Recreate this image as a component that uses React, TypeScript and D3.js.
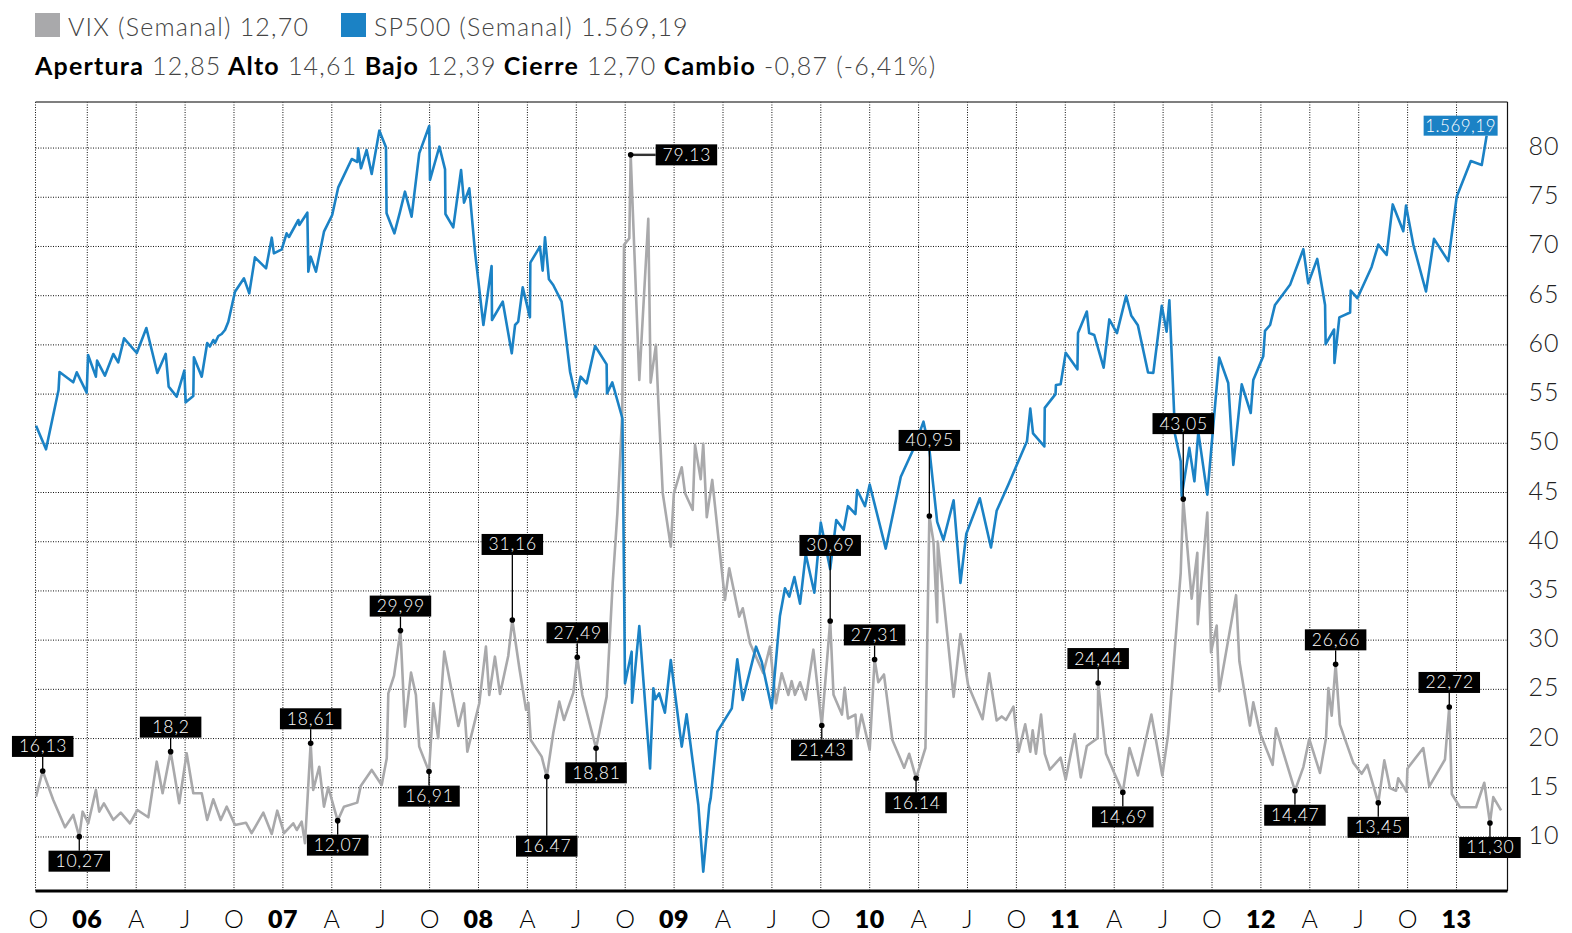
import React from 'react';
import * as d3 from 'd3';

const vixWeekly: [number, number][] = [
  [2005.738, 14.1], [2005.772, 16.71], [2005.826, 13.76], [2005.886, 10.99], [2005.928, 12.24], [2005.959, 10.03],
  [2005.976, 12.57], [2006.005, 11.39], [2006.044, 14.78], [2006.061, 12.57], [2006.085, 13.42], [2006.133, 11.73],
  [2006.171, 12.47], [2006.218, 11.39], [2006.256, 12.74], [2006.312, 12.0], [2006.355, 17.65], [2006.385, 14.44],
  [2006.426, 18.67], [2006.47, 13.42], [2006.508, 18.51], [2006.542, 14.44], [2006.585, 14.44], [2006.613, 11.73],
  [2006.644, 13.83], [2006.682, 11.73], [2006.713, 13.08], [2006.755, 11.22], [2006.811, 11.45], [2006.84, 10.38],
  [2006.9, 12.47], [2006.943, 10.3], [2006.971, 12.67], [2007.006, 10.38], [2007.053, 11.39], [2007.071, 10.71],
  [2007.096, 11.55], [2007.113, 9.36], [2007.142, 19.52], [2007.155, 14.78], [2007.186, 17.14], [2007.21, 13.08],
  [2007.232, 15.05], [2007.28, 11.66], [2007.312, 13.08], [2007.38, 13.49], [2007.398, 15.18], [2007.454, 16.81],
  [2007.505, 15.28], [2007.531, 18.0], [2007.539, 24.6], [2007.568, 26.36], [2007.601, 30.97], [2007.624, 21.21],
  [2007.655, 26.7], [2007.68, 24.43], [2007.697, 19.18], [2007.747, 16.64], [2007.769, 23.59], [2007.794, 20.03],
  [2007.825, 28.83], [2007.897, 21.28], [2007.926, 23.59], [2007.943, 18.67], [2008.004, 23.59], [2008.038, 29.34],
  [2008.055, 24.43], [2008.084, 28.32], [2008.11, 24.53], [2008.152, 28.39], [2008.173, 32.05], [2008.209, 27.14],
  [2008.243, 22.91], [2008.255, 23.65], [2008.267, 19.86], [2008.323, 18.16], [2008.349, 16.13], [2008.382, 20.54],
  [2008.413, 23.75], [2008.437, 21.89], [2008.485, 24.66], [2008.505, 28.26], [2008.531, 24.43], [2008.601, 19.01],
  [2008.655, 24.26], [2008.686, 35.78], [2008.71, 42.9], [2008.735, 53.06], [2008.744, 70.16], [2008.771, 70.84],
  [2008.778, 79.31], [2008.822, 56.44], [2008.868, 72.8], [2008.88, 56.17], [2008.907, 60.0], [2008.919, 54.41],
  [2008.942, 44.93], [2008.983, 39.5], [2008.999, 44.93], [2009.039, 47.57], [2009.056, 44.93], [2009.095, 43.23],
  [2009.107, 49.84], [2009.136, 46.35], [2009.149, 49.94], [2009.167, 42.49], [2009.195, 46.28], [2009.26, 34.09],
  [2009.282, 37.31], [2009.333, 32.39], [2009.351, 33.24], [2009.388, 29.68], [2009.456, 26.64], [2009.49, 29.34],
  [2009.521, 23.59], [2009.55, 26.64], [2009.584, 24.43], [2009.601, 25.83], [2009.618, 24.44], [2009.644, 25.72],
  [2009.673, 23.96], [2009.712, 29.03], [2009.755, 21.32], [2009.798, 31.95], [2009.815, 24.44], [2009.858, 22.44],
  [2009.872, 25.16], [2009.889, 22.04], [2009.927, 22.44], [2009.936, 20.04], [2009.958, 22.44], [2010.0, 18.84],
  [2010.025, 28.04], [2010.044, 25.72], [2010.073, 26.51], [2010.116, 19.85], [2010.176, 17.04], [2010.202, 18.45],
  [2010.237, 15.97], [2010.285, 19.04], [2010.305, 42.62], [2010.326, 40.02], [2010.345, 31.83], [2010.348, 40.02],
  [2010.429, 24.24], [2010.464, 30.63], [2010.503, 25.44], [2010.577, 21.96], [2010.611, 26.64], [2010.649, 21.84],
  [2010.675, 22.25], [2010.697, 21.89], [2010.735, 23.24], [2010.761, 18.65], [2010.795, 21.44], [2010.821, 18.65],
  [2010.833, 20.84], [2010.85, 18.45], [2010.876, 22.44], [2010.895, 18.45], [2010.921, 16.85], [2010.976, 18.05],
  [2011.002, 15.84], [2011.048, 20.45], [2011.079, 16.05], [2011.11, 19.25], [2011.165, 20.04], [2011.168, 25.64],
  [2011.208, 18.45], [2011.247, 16.65], [2011.294, 14.53], [2011.328, 19.04], [2011.371, 16.25], [2011.44, 22.44],
  [2011.496, 16.25], [2011.526, 20.45], [2011.59, 36.84], [2011.603, 44.33], [2011.646, 34.21], [2011.675, 38.88],
  [2011.677, 31.63], [2011.726, 42.97], [2011.745, 28.76], [2011.774, 31.48], [2011.787, 24.82], [2011.873, 34.57],
  [2011.89, 27.86], [2011.944, 21.32], [2011.961, 23.68], [2011.995, 20.6], [2012.06, 17.33], [2012.077, 21.05],
  [2012.174, 14.7], [2012.217, 17.1], [2012.247, 19.96], [2012.302, 16.51], [2012.333, 20.05], [2012.345, 25.13],
  [2012.362, 22.32], [2012.382, 27.54], [2012.404, 21.41], [2012.472, 17.55], [2012.515, 16.42], [2012.544, 17.33],
  [2012.6, 13.47], [2012.631, 17.78], [2012.66, 14.97], [2012.691, 14.7], [2012.702, 15.97], [2012.745, 14.6],
  [2012.749, 16.96], [2012.83, 19.04], [2012.861, 15.14], [2012.941, 17.87], [2012.963, 23.21], [2012.976, 14.37],
  [2013.018, 13.02], [2013.1, 13.02], [2013.142, 15.51], [2013.171, 11.42], [2013.188, 14.05], [2013.228, 12.7],
];

// S&P 500 weekly closes (index points), plotted on its own hidden scale
const spWeekly: [number, number][] = [
  [2005.738, 1221.2], [2005.789, 1192.8], [2005.853, 1264.0], [2005.858, 1285.6], [2005.928, 1273.2], [2005.946, 1285.2],
  [2005.997, 1260.8], [2006.004, 1306.0], [2006.044, 1280.0], [2006.05, 1299.2], [2006.09, 1281.2], [2006.133, 1307.2],
  [2006.158, 1297.2], [2006.188, 1326.0], [2006.253, 1308.4], [2006.302, 1338.4], [2006.358, 1284.4], [2006.401, 1307.4],
  [2006.416, 1268.0], [2006.457, 1256.0], [2006.496, 1287.2], [2006.503, 1249.2], [2006.542, 1256.8], [2006.545, 1303.2],
  [2006.585, 1280.0], [2006.613, 1320.4], [2006.627, 1316.2], [2006.644, 1324.0], [2006.653, 1320.4], [2006.67, 1328.8],
  [2006.687, 1331.2], [2006.704, 1336.0], [2006.721, 1346.0], [2006.755, 1382.0], [2006.801, 1398.0], [2006.828, 1380.0],
  [2006.857, 1423.2], [2006.914, 1410.0], [2006.943, 1446.8], [2006.954, 1428.0], [2006.994, 1432.8], [2007.019, 1452.0],
  [2007.031, 1447.6], [2007.079, 1468.0], [2007.084, 1462.0], [2007.125, 1476.8], [2007.13, 1406.0], [2007.142, 1424.0],
  [2007.169, 1406.0], [2007.21, 1454.0], [2007.252, 1474.0], [2007.283, 1507.2], [2007.352, 1541.2], [2007.381, 1537.6],
  [2007.385, 1554.0], [2007.399, 1530.0], [2007.428, 1552.0], [2007.454, 1523.2], [2007.493, 1575.2], [2007.527, 1555.2],
  [2007.53, 1476.0], [2007.57, 1452.0], [2007.599, 1478.0], [2007.624, 1502.0], [2007.658, 1472.0], [2007.697, 1548.0],
  [2007.748, 1580.8], [2007.752, 1516.0], [2007.8, 1556.0], [2007.829, 1528.8], [2007.831, 1475.2], [2007.871, 1459.2],
  [2007.911, 1528.0], [2007.926, 1488.8], [2007.953, 1506.0], [2007.982, 1430.0], [2008.025, 1342.0], [2008.067, 1412.8],
  [2008.069, 1348.0], [2008.124, 1370.0], [2008.17, 1308.0], [2008.187, 1342.0], [2008.203, 1346.0], [2008.226, 1387.2],
  [2008.263, 1351.2], [2008.265, 1416.8], [2008.314, 1436.0], [2008.328, 1407.2], [2008.34, 1447.2], [2008.36, 1396.8],
  [2008.382, 1390.0], [2008.425, 1370.0], [2008.468, 1286.0], [2008.498, 1255.2], [2008.522, 1280.0], [2008.553, 1272.0],
  [2008.596, 1316.8], [2008.655, 1294.8], [2008.657, 1260.0], [2008.684, 1273.2], [2008.736, 1229.8], [2008.749, 912.0],
  [2008.783, 950.0], [2008.785, 888.8], [2008.822, 980.8], [2008.877, 810.0], [2008.894, 906.0], [2008.904, 892.8],
  [2008.924, 900.0], [2008.953, 876.8], [2008.983, 940.0], [2009.039, 836.0], [2009.064, 874.8], [2009.124, 766.0],
  [2009.149, 686.0], [2009.18, 766.0], [2009.187, 774.0], [2009.221, 854.0], [2009.295, 882.0], [2009.323, 940.8],
  [2009.351, 892.0], [2009.419, 956.0], [2009.448, 938.0], [2009.499, 882.0], [2009.541, 992.8], [2009.567, 1026.0],
  [2009.589, 1016.0], [2009.615, 1039.6], [2009.644, 1007.6], [2009.673, 1067.0], [2009.717, 1020.8], [2009.75, 1104.8],
  [2009.798, 1049.0], [2009.829, 1108.0], [2009.867, 1096.2], [2009.889, 1124.6], [2009.927, 1115.2], [2009.936, 1144.0],
  [2009.976, 1124.6], [2010.0, 1150.6], [2010.082, 1073.7], [2010.159, 1160.0], [2010.228, 1195.4], [2010.275, 1226.0],
  [2010.305, 1193.0], [2010.345, 1105.7], [2010.377, 1084.0], [2010.429, 1131.6], [2010.464, 1032.6], [2010.494, 1091.6],
  [2010.563, 1134.0], [2010.62, 1075.0], [2010.649, 1119.0], [2010.709, 1150.6], [2010.804, 1202.4], [2010.821, 1241.7],
  [2010.835, 1212.0], [2010.893, 1196.3], [2010.895, 1242.5], [2010.95, 1259.0], [2010.952, 1270.0], [2010.976, 1270.8],
  [2011.002, 1308.6], [2011.062, 1288.8], [2011.065, 1332.3], [2011.11, 1358.2], [2011.122, 1332.3], [2011.148, 1330.0],
  [2011.196, 1290.8], [2011.225, 1348.7], [2011.264, 1332.3], [2011.311, 1377.0], [2011.337, 1353.5], [2011.371, 1341.6],
  [2011.423, 1285.0], [2011.45, 1284.6], [2011.493, 1365.0], [2011.518, 1334.0], [2011.532, 1371.5], [2011.561, 1210.7],
  [2011.59, 1178.6], [2011.595, 1136.8], [2011.634, 1194.6], [2011.66, 1154.4], [2011.68, 1213.4], [2011.726, 1138.4],
  [2011.787, 1302.9], [2011.833, 1272.4], [2011.859, 1174.2], [2011.902, 1270.7], [2011.948, 1236.4], [2011.961, 1276.0],
  [2012.012, 1304.4], [2012.021, 1335.0], [2012.047, 1342.0], [2012.072, 1366.1], [2012.149, 1390.2], [2012.217, 1433.0],
  [2012.242, 1392.0], [2012.288, 1421.3], [2012.328, 1366.1], [2012.331, 1319.0], [2012.374, 1336.6], [2012.376, 1296.4],
  [2012.401, 1351.1], [2012.456, 1357.0], [2012.459, 1383.3], [2012.493, 1374.2], [2012.566, 1411.7], [2012.6, 1438.5],
  [2012.643, 1426.1], [2012.674, 1486.7], [2012.728, 1454.6], [2012.742, 1485.2], [2012.779, 1438.5], [2012.844, 1382.2],
  [2012.885, 1445.4], [2012.958, 1418.7], [2013.001, 1495.8], [2013.073, 1538.8], [2013.129, 1534.0], [2013.154, 1569.19],
];

// one label per quarter, starting October 2005
const quarterLabels = ['O', '06', 'A', 'J', 'O', '07', 'A', 'J', 'O', '08', 'A', 'J', 'O', '09', 'A', 'J',
  'O', '10', 'A', 'J', 'O', '11', 'A', 'J', 'O', '12', 'A', 'J', 'O', '13'];
const firstQuarter = 2005.75;

const yTicks = [10, 15, 20, 25, 30, 35, 40, 45, 50, 55, 60, 65, 70, 75, 80];

// VIX highs / lows marked on the line
const vixNotes = [
  { t: 2005.772, label: '16,13', side: 'up' },
  { t: 2005.959, label: '10,27', side: 'down' },
  { t: 2006.426, label: '18,2', side: 'up' },
  { t: 2007.142, label: '18,61', side: 'up' },
  { t: 2007.28, label: '12,07', side: 'down' },
  { t: 2007.601, label: '29,99', side: 'up' },
  { t: 2007.747, label: '16,91', side: 'down' },
  { t: 2008.173, label: '31,16', side: 'up', long: true },
  { t: 2008.349, label: '16.47', side: 'down', long: true },
  { t: 2008.505, label: '27,49', side: 'up' },
  { t: 2008.601, label: '18,81', side: 'down' },
  { t: 2008.778, label: '79.13', side: 'right' },
  { t: 2009.755, label: '21,43', side: 'down' },
  { t: 2009.798, label: '30,69', side: 'up', long: true },
  { t: 2010.025, label: '27,31', side: 'up' },
  { t: 2010.237, label: '16.14', side: 'down' },
  { t: 2010.305, label: '40,95', side: 'up', long: true },
  { t: 2011.168, label: '24,44', side: 'up' },
  { t: 2011.294, label: '14,69', side: 'down' },
  { t: 2011.603, label: '43,05', side: 'up', long: true },
  { t: 2012.174, label: '14,47', side: 'down' },
  { t: 2012.382, label: '26,66', side: 'up' },
  { t: 2012.6, label: '13,45', side: 'down' },
  { t: 2012.963, label: '22,72', side: 'up' },
  { t: 2013.171, label: '11,30', side: 'down' },
];

const legendSeries = [
  { key: 'vix', name: 'VIX (Semanal)', value: '12,70' },
  { key: 'sp', name: 'SP500 (Semanal)', value: '1.569,19' },
];
const sessionStats = [
  ['Apertura', '12,85'], ['Alto', '14,61'], ['Bajo', '12,39'], ['Cierre', '12,70'], ['Cambio', '-0,87 (-6,41%)'],
];
const spLastLabel = '1.569,19';

const COLORS: Record<string, string> = { vix: '#a9a9ab', sp: '#1b82c5' };
const FONT = "Lato, 'Open Sans', sans-serif";
const W = 1572;
const H = 933;
const plot = { left: 35.5, right: 1507.5, top: 102, bottom: 891 };

export default function App() {
  const x = d3.scaleLinear().domain([2005.7352, 2013.2607]).range([plot.left, plot.right]);
  const y = d3.scaleLinear().domain([4.51, 84.68]).range([plot.bottom, plot.top]);
  const ySp = d3.scaleLinear().domain([662.8, 1609.6]).range([plot.bottom, plot.top]);

  const vixLine = d3.line<[number, number]>().x(d => x(d[0])).y(d => y(d[1]));
  const spLine = d3.line<[number, number]>().x(d => x(d[0])).y(d => ySp(d[1]));

  const quarters = quarterLabels.map((label, i) => ({ t: firstQuarter + i * 0.25, label }));
  const spLast = spWeekly[spWeekly.length - 1];

  const boxW = 61.5;
  const boxH = 21;

  return (
    <div style={{ position: 'absolute', left: 0, top: 0 }}>
      <svg width={W} height={H} style={{ display: 'block', background: '#fff' }} fontFamily={FONT}>
        {/* legend */}
        {legendSeries.map((s, i) => {
          const lx = i === 0 ? 35 : 341;
          return (
            <g key={s.key}>
              <rect x={lx} y={13} width={25} height={24} fill={COLORS[s.key]} />
              <text x={lx + 33} y={36} fontSize={25} fontWeight={300} fill="#444" letterSpacing={1.2}>
                {s.name} {s.value}
              </text>
            </g>
          );
        })}
        <text x={35} y={75} fontSize={25} fill="#444" fontWeight={300} letterSpacing={1.2}>
          {sessionStats.map(([k, v], i) => (
            <React.Fragment key={k}>
              <tspan fontWeight={700} fill="#000">{(i > 0 ? ' ' : '') + k}</tspan>
              <tspan>{' ' + v}</tspan>
            </React.Fragment>
          ))}
        </text>

        {/* grid */}
        {yTicks.map(v => (
          <line key={'h' + v} x1={plot.left} x2={plot.right} y1={y(v)} y2={y(v)}
            stroke="#111" strokeWidth={1} strokeDasharray="1 1.5" />
        ))}
        {quarters.filter(q => x(q.t) > plot.left + 6).map(q => (
          <line key={'v' + q.t} x1={x(q.t)} x2={x(q.t)} y1={plot.top} y2={plot.bottom}
            stroke="#111" strokeWidth={1} strokeDasharray="1 1.5" />
        ))}
        <line x1={plot.left} x2={plot.left} y1={plot.top} y2={plot.bottom}
          stroke="#111" strokeWidth={1} strokeDasharray="1 1.5" />
        <line x1={plot.left} x2={plot.right} y1={plot.top} y2={plot.top} stroke="#555" strokeWidth={1.6} />
        <line x1={plot.right} x2={plot.right} y1={plot.top} y2={plot.bottom} stroke="#111" strokeWidth={1.2} />

        {/* series */}
        <path d={vixLine(vixWeekly) || ''} fill="none" stroke={COLORS.vix} strokeWidth={2.6} strokeLinejoin="round" />
        <path d={spLine(spWeekly) || ''} fill="none" stroke={COLORS.sp} strokeWidth={2.6} strokeLinejoin="round" />

        <line x1={plot.left} x2={plot.right} y1={plot.bottom} y2={plot.bottom} stroke="#000" strokeWidth={3} />

        {/* VIX notes */}
        {vixNotes.map(n => {
          const p = d3.least(vixWeekly, d => Math.abs(d[0] - n.t))!;
          const px = x(p[0]);
          const py = y(p[1]);
          const gap = n.long ? (n.side === 'up' ? 65 : 59) : 14;
          let bx = px - boxW / 2;
          let by = n.side === 'up' ? py - gap - boxH : py + gap;
          let leader = <line x1={px} x2={px} y1={py} y2={n.side === 'up' ? by + boxH : by} stroke="#000" strokeWidth={1.3} />;
          if (n.side === 'right') {
            bx = px + 25;
            by = py - boxH / 2;
            leader = <line x1={px} x2={bx} y1={py} y2={py} stroke="#333" strokeWidth={2.4} />;
          }
          return (
            <g key={n.label}>
              {leader}
              <circle cx={px} cy={py} r={2.8} fill="#000" />
              <rect x={bx} y={by} width={boxW} height={boxH} fill="#000" />
              <text x={bx + boxW / 2 + 0.4} y={by + boxH / 2 + 6} textAnchor="middle" fontSize={17.5}
                fontWeight={300} fill="#fff" letterSpacing={0.8}>
                {n.label}
              </text>
            </g>
          );
        })}

        {/* SP500 last value tag */}
        <rect x={x(spLast[0]) - 63} y={ySp(spLast[1]) - 20} width={74} height={20} fill={COLORS.sp} />
        <text x={x(spLast[0]) - 26} y={ySp(spLast[1]) - 4} textAnchor="middle" fontSize={17}
          fontWeight={300} fill="#fff" letterSpacing={0.5}>
          {spLastLabel}
        </text>

        {/* right axis */}
        {yTicks.map(v => (
          <text key={'yl' + v} x={1544} y={y(v) + 7} textAnchor="middle" fontSize={25} fontWeight={300}
            fill="#222" letterSpacing={1}>
            {v}
          </text>
        ))}

        {/* bottom axis */}
        {quarters.map(q => {
          const isYear = /\d/.test(q.label);
          return (
            <text key={'xl' + q.t} x={x(q.t)} y={928} textAnchor="middle" fontSize={25}
              fontWeight={isYear ? 800 : 300} fill="#000" letterSpacing={isYear ? 0.5 : 0}>
              {q.label}
            </text>
          );
        })}
      </svg>
    </div>
  );
}
